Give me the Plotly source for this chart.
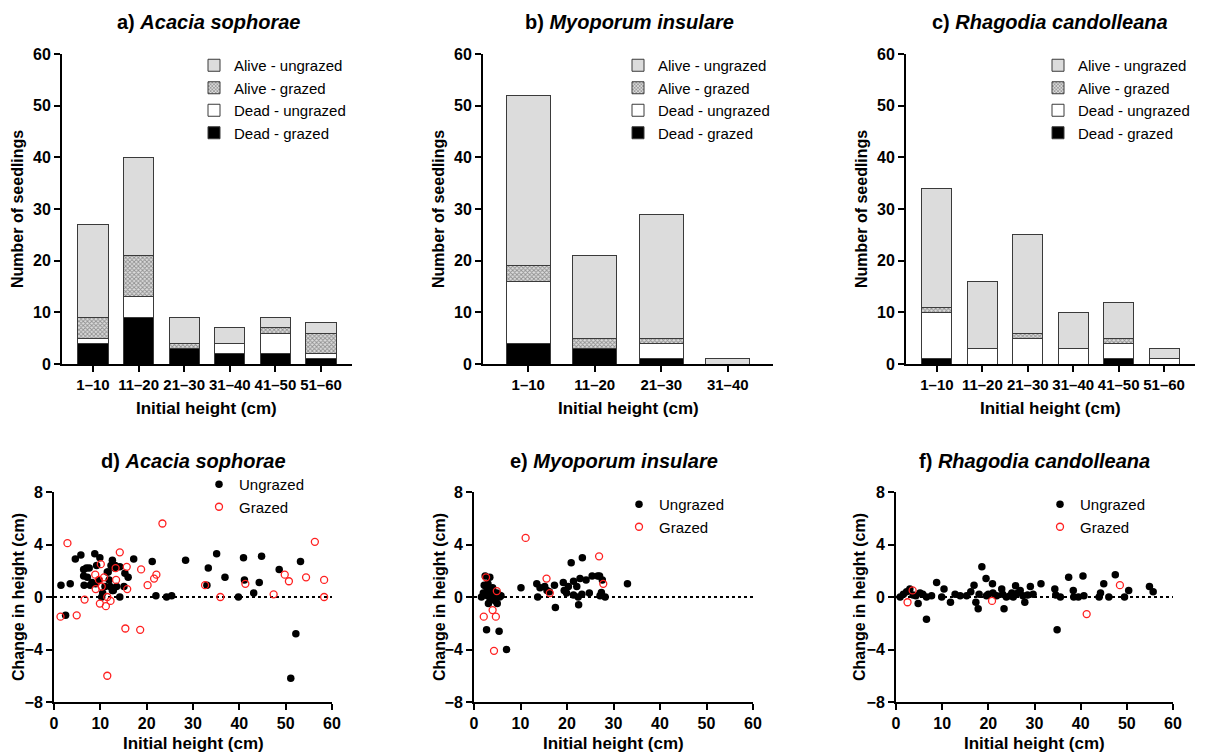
import plotly.graph_objects as go

FONT = "Liberation Sans, Arial, sans-serif"

# ---------------- Bar data ----------------
cats_a = ["1–10", "11–20", "21–30", "31–40", "41–50", "51–60"]
cats_b = ["1–10", "11–20", "21–30", "31–40"]
cats_c = ["1–10", "11–20", "21–30", "31–40", "41–50", "51–60"]

series_names = ["Dead - grazed", "Dead - ungrazed", "Alive - grazed", "Alive - ungrazed"]

a_dead_grazed = [4, 9, 3, 2, 2, 1]
a_dead_ungrazed = [1, 4, 0, 2, 4, 1]
a_alive_grazed = [4, 8, 1, 0, 1, 4]
a_alive_ungrazed = [18, 19, 5, 3, 2, 2]

b_dead_grazed = [4, 3, 1, 0]
b_dead_ungrazed = [12, 0, 3, 0]
b_alive_grazed = [3, 2, 1, 0]
b_alive_ungrazed = [33, 16, 24, 1]

c_dead_grazed = [1, 0, 0, 0, 1, 0]
c_dead_ungrazed = [9, 3, 5, 3, 3, 1]
c_alive_grazed = [1, 0, 1, 0, 1, 0]
c_alive_ungrazed = [23, 13, 19, 7, 7, 2]

# ---------------- Scatter data ----------------
d_ung_x = [1.5, 2.5, 3.5, 4.6, 5.8, 6.4, 6.4, 6.5, 7.0, 7.6, 7.8, 8.8, 9.2, 9.9, 9.7,
           10.3, 10.5, 11.5, 11.9, 12.1, 12.3, 12.6, 12.6, 13.1, 13.5, 14.2, 14.2, 15.1,
           15.3, 16.0, 17.2, 7.2, 8.2, 9.0, 11.0, 11.7, 12.8, 13.2, 21.2, 22.0, 24.3,
           25.4, 28.4, 33.0, 33.3, 35.1, 36.9, 39.8, 40.9, 41.1, 43.1, 44.3, 44.8, 48.6,
           51.1, 52.2, 53.2]
d_ung_y = [0.9, -1.4, 1.0, 2.9, 3.2, 2.1, 1.6, 0.9, 2.2, 2.2, 0.9, 3.3, 2.4, 3.0, 1.3,
           0.0, 0.3, 1.9, 1.3, 0.8, 2.4, 2.8, 0.5, 2.2, 0.8, 2.3, 0.0, 0.8,
           1.8, 1.5, 2.9, 1.5, 1.1, 1.0, 0.8, 1.9, 0.5, 2.4, 2.7, 0.1, 0.0,
           0.1, 2.8, 0.9, 2.2, 3.3, 1.5, 0.0, 3.0, 1.3, 0.3, 1.1, 3.1, 2.1,
           -6.2, -2.8, 2.7]
d_gr_x = [1.4, 2.9, 4.9, 6.6, 8.9, 9.0, 9.7, 9.9, 10.1, 10.3, 10.8, 11.2, 11.5, 11.5,
          12.2, 13.3, 13.4, 14.2, 15.4, 15.7, 15.8, 18.6, 18.8, 20.2, 21.6, 22.1, 23.4,
          32.6, 35.9, 41.3, 47.4, 49.8, 50.7, 54.4, 56.3, 58.3, 58.3]
d_gr_y = [-1.5, 4.1, -1.4, -0.2, 1.7, 0.6, 1.3, -0.5, 2.5, 0.8, 1.5, -0.7, 0.0, -6.0,
          -0.3, 2.2, 1.3, 3.4, -2.4, 2.3, 0.6, -2.5, 2.1, 0.9, 1.4, 1.7, 5.6,
          0.9, 0.0, 1.0, 0.2, 1.7, 1.2, 1.5, 4.2, 1.3, 0.0]

e_ung_x = [1.6, 2.0, 2.4, 2.6, 2.8, 3.0, 3.1, 3.3, 3.4, 3.6, 3.8, 4.0, 4.2, 4.4, 4.6, 4.8,
           5.0, 5.2, 5.5, 5.8, 2.2, 2.9, 3.5, 4.1, 4.9, 2.7, 5.4, 7.0,
           10.1, 13.5, 13.7, 14.2, 15.2, 15.7, 16.2, 17.3, 17.5, 19.2, 19.4, 19.9, 20.3,
           20.9, 21.4, 21.4, 22.1, 22.4, 22.5, 22.8, 23.2, 23.3, 24.1, 24.8, 25.4, 26.6,
           27.0, 27.1, 27.4, 27.6, 28.2, 33.0]
e_ung_y = [0.0, 0.3, 1.6, 0.8, 0.4, 1.0, -0.5, 0.6, 1.5, 0.2, 0.5, 0.7, 0.1, 0.3, -0.3, 0.0,
           -0.5, 0.2, 0.0, 0.1, 0.9, 0.1, -0.2, 0.4, 0.3, -2.5, -2.6, -4.0,
           0.7, 1.0, 0.0, 0.7, 0.8, 0.5, 0.4, 0.9, -0.8, 1.1, 0.5, 0.3, 0.8,
           2.6, 1.2, 0.15, 0.8, 0.0, -0.6, 1.4, 0.2, 3.0, 1.3, 0.3, 1.6, 1.6,
           1.6, 0.1, 0.35, 1.3, 0.0, 1.0]
e_gr_x = [2.1, 2.6, 4.0, 4.3, 4.7, 4.9, 11.1, 15.6, 16.3, 26.9, 27.8]
e_gr_y = [-1.5, 1.5, -1.0, -4.1, -1.5, 0.45, 4.5, 1.4, 0.3, 3.1, 1.0]

f_ung_x = [0.9, 1.6, 2.3, 3.0, 3.7, 4.3, 4.8, 5.2, 5.8, 6.6, 6.6, 7.7, 8.8, 9.9, 10.4,
           11.8, 12.8, 13.9, 15.3, 16.2, 16.9, 17.3, 17.8, 18.0, 18.6, 19.5, 19.6, 20.0,
           20.9, 21.0, 21.8, 22.9, 23.1, 23.4, 23.9, 24.7, 25.1, 25.4, 25.9, 26.4, 26.9,
           27.5, 27.9, 28.5, 29.1, 29.7, 31.4, 34.4, 34.6, 34.9, 35.6, 37.4, 38.4, 38.5,
           39.5, 40.5, 40.7, 44.0, 44.3, 45.0, 46.1, 47.5, 49.5, 50.4, 54.9, 55.7]
f_ung_y = [0.0, 0.2, 0.4, 0.6, 0.15, 0.1, -0.5, 0.3, 0.2, -1.7, 0.0, 0.1, 1.1, 0.0, 0.6,
           -0.4, 0.2, 0.1, 0.1, 0.4, 0.9, -0.4, -0.9, 0.2, 2.3, 1.4, 0.1, 0.2,
           1.0, 0.3, 0.1, 0.6, 0.2, -0.9, 0.0, 0.1, 0.3, 0.0, 0.85, 0.3, 0.5,
           0.1, -0.4, 0.15, 0.8, 0.2, 1.0, 0.6, 0.15, -2.5, 0.0, 1.5, 0.5, 0.0,
           0.0, 1.6, 0.1, 0.0, 0.3, 1.0, 0.0, 1.7, 0.0, 0.5, 0.8, 0.4]
f_gr_x = [2.5, 3.6, 20.8, 41.3, 48.5]
f_gr_y = [-0.4, 0.5, -0.3, -1.3, 0.9]

# ---------------- Layout geometry (pixels) ----------------
W, H = 1208, 753


def px_x(p):
    return p / W


def px_y(p):
    return 1 - p / H


fig = go.Figure()

bar_panels = [
    dict(cats=cats_a, vals=[a_dead_grazed, a_dead_ungrazed, a_alive_grazed, a_alive_ungrazed],
         xa="x", ya="y", xd=(62, 352), leg="legend", legx=194,
         title="a) <i>Acacia sophorae</i>", tx=208, ytx=18),
    dict(cats=cats_b, vals=[b_dead_grazed, b_dead_ungrazed, b_alive_grazed, b_alive_ungrazed],
         xa="x2", ya="y2", xd=(483, 773), leg="legend2", legx=618,
         title="b) <i>Myoporum insulare</i>", tx=629, ytx=439),
    dict(cats=cats_c, vals=[c_dead_grazed, c_dead_ungrazed, c_alive_grazed, c_alive_ungrazed],
         xa="x3", ya="y3", xd=(906, 1195), leg="legend3", legx=1038,
         title="c) <i>Rhagodia candolleana</i>", tx=1050, ytx=862),
]

bar_styles = [
    dict(color="#000000", pattern=None),
    dict(color="#ffffff", pattern=None),
    dict(color="#ffffff", pattern=dict(shape="x", fgcolor="#444444", bgcolor="#dcdcdc", size=3, solidity=0.5)),
    dict(color="#dcdcdc", pattern=None),
]

annotations = []
shapes = []
layout_axes = {}
legends = {}


def ann(text, x, y, size, angle=0):
    return dict(text=text, x=px_x(x), y=px_y(y), xref="paper", yref="paper",
                showarrow=False, xanchor="center", yanchor="middle", textangle=angle,
                font=dict(family=FONT, size=size, color="black"))


for p in bar_panels:
    for name, vals, st in zip(series_names, p["vals"], bar_styles):
        marker = dict(color=st["color"], line=dict(color="#3a3a3a", width=1))
        if st["pattern"]:
            marker["pattern"] = st["pattern"]
        fig.add_trace(go.Bar(x=p["cats"], y=vals, name=name, marker=marker,
                             width=0.66, xaxis=p["xa"], yaxis=p["ya"],
                             legend=p["leg"], showlegend=True))
    n = len(p["cats"])
    xkey = "xaxis" if p["xa"] == "x" else "xaxis" + p["xa"][1:]
    ykey = "yaxis" if p["ya"] == "y" else "yaxis" + p["ya"][1:]
    layout_axes[xkey] = dict(
        domain=[px_x(p["xd"][0]), px_x(p["xd"][1])], anchor=p["ya"],
        type="category", range=[-0.68, n - 1 + 0.68],
        showline=True, linecolor="black", linewidth=2, ticks="outside",
        ticklen=6, tickwidth=2, tickcolor="black", showgrid=False, zeroline=False,
        tickfont=dict(family=FONT, size=15, color="black", weight="bold"),
        automargin=False,
    )
    layout_axes[ykey] = dict(
        domain=[px_y(364), px_y(54)], anchor=p["xa"], range=[0, 60],
        tickvals=[0, 10, 20, 30, 40, 50, 60],
        showline=True, linecolor="black", linewidth=2, ticks="outside",
        ticklen=6, tickwidth=2, tickcolor="black", showgrid=False, zeroline=False,
        tickfont=dict(family=FONT, size=16, color="black", weight="bold"),
        automargin=False,
    )
    legends[p["leg"]] = dict(
        x=px_x(p["legx"]), y=px_y(49), xanchor="left", yanchor="top",
        traceorder="reversed", bgcolor="rgba(0,0,0,0)",
        font=dict(family=FONT, size=15, color="black"), tracegroupgap=0,
        itemsizing="trace",
    )
    annotations.append(ann("<b>" + p["title"] + "</b>", p["tx"], 22, 20))
    annotations.append(ann("<b>Number of seedlings</b>", p["ytx"], 209, 16, -90))
    annotations.append(ann("<b>Initial height (cm)</b>", (p["xd"][0] + p["xd"][1]) / 2, 408, 17))

scatter_panels = [
    dict(ux=d_ung_x, uy=d_ung_y, gx=d_gr_x, gy=d_gr_y, xa="x4", ya="y4", xd=(54, 332),
         leg="legend4", legx=199, legy=468, title="d) <i>Acacia sophorae</i>", tx=193, ytx=18),
    dict(ux=e_ung_x, uy=e_ung_y, gx=e_gr_x, gy=e_gr_y, xa="x5", ya="y5", xd=(474, 753),
         leg="legend5", legx=619, legy=488, title="e) <i>Myoporum insulare</i>", tx=614, ytx=439),
    dict(ux=f_ung_x, uy=f_ung_y, gx=f_gr_x, gy=f_gr_y, xa="x6", ya="y6", xd=(896, 1173),
         leg="legend6", legx=1040, legy=488, title="f) <i>Rhagodia candolleana</i>", tx=1034, ytx=859),
]

for p in scatter_panels:
    fig.add_trace(go.Scatter(x=p["ux"], y=p["uy"], mode="markers", name="Ungrazed",
                             marker=dict(color="black", size=7.5),
                             xaxis=p["xa"], yaxis=p["ya"], legend=p["leg"]))
    fig.add_trace(go.Scatter(x=p["gx"], y=p["gy"], mode="markers", name="Grazed",
                             marker=dict(color="rgba(0,0,0,0)", size=7,
                                         line=dict(color="#ff2020", width=1.3)),
                             xaxis=p["xa"], yaxis=p["ya"], legend=p["leg"]))
    xkey = "xaxis" + p["xa"][1:]
    ykey = "yaxis" + p["ya"][1:]
    layout_axes[xkey] = dict(
        domain=[px_x(p["xd"][0]), px_x(p["xd"][1])], anchor=p["ya"], range=[0, 60],
        tickvals=[0, 10, 20, 30, 40, 50, 60],
        showline=True, linecolor="black", linewidth=2, ticks="outside",
        ticklen=6, tickwidth=2, tickcolor="black", showgrid=False, zeroline=False,
        tickfont=dict(family=FONT, size=16, color="black", weight="bold"),
        automargin=False,
    )
    layout_axes[ykey] = dict(
        domain=[px_y(702), px_y(492)], anchor=p["xa"], range=[-8, 8],
        tickvals=[-8, -4, 0, 4, 8],
        showline=True, linecolor="black", linewidth=2, ticks="outside",
        ticklen=6, tickwidth=2, tickcolor="black", showgrid=False, zeroline=False,
        tickfont=dict(family=FONT, size=16, color="black", weight="bold"),
        automargin=False,
    )
    shapes.append(dict(type="line", xref=p["xa"] + " domain", yref=p["ya"],
                       x0=0, x1=1, y0=0, y1=0, layer="below",
                       line=dict(color="black", width=2, dash="dot")))
    legends[p["leg"]] = dict(
        x=px_x(p["legx"]), y=px_y(p["legy"]), xanchor="left", yanchor="top",
        bgcolor="rgba(0,0,0,0)", font=dict(family=FONT, size=15, color="black"),
        tracegroupgap=0, itemsizing="trace",
    )
    annotations.append(ann("<b>" + p["title"] + "</b>", p["tx"], 461, 20))
    annotations.append(ann("<b>Change in height (cm)</b>", p["ytx"], 597, 16, -90))
    annotations.append(ann("<b>Initial height (cm)</b>", (p["xd"][0] + p["xd"][1]) / 2, 743, 17))

fig.update_layout(
    width=W, height=H, margin=dict(l=0, r=0, t=0, b=0, autoexpand=False),
    paper_bgcolor="white", plot_bgcolor="white",
    barmode="stack", bargap=0.34,
    font=dict(family=FONT, color="black"),
    annotations=annotations, shapes=shapes,
    **layout_axes, **legends,
)

fig.write_html("out.html")
